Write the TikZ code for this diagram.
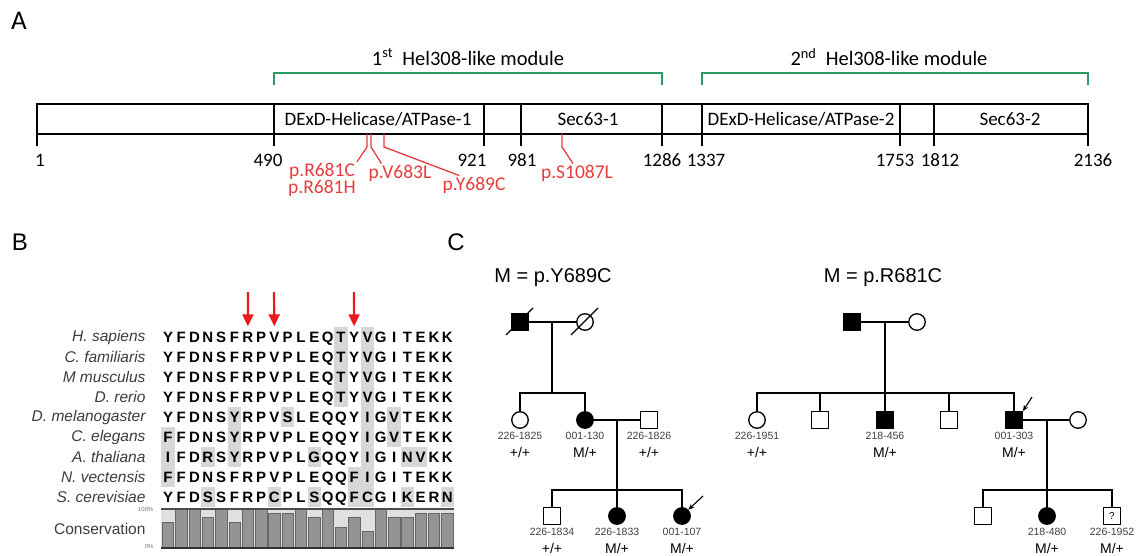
\documentclass[tikz,border=0pt]{standalone}
\usepackage{fontspec}
\setmainfont{Liberation Sans}
\newfontfamily\carl{Carlito}
\usetikzlibrary{arrows.meta, positioning, calc}
\definecolor{modgreen}{RGB}{40,155,100}
\definecolor{mutred}{RGB}{232,60,60}
\definecolor{hitred}{RGB}{235,25,30}
\definecolor{spgray}{RGB}{60,60,60}
\definecolor{cellgray}{RGB}{215,215,215}

\begin{document}
\begin{tikzpicture}[x=1pt, y=-1pt,
    panel/.style={font=\fontsize{24}{26}\selectfont},
    domtxt/.style={font=\carl\fontsize{19}{21}\selectfont},
    modtxt/.style={font=\carl\fontsize{20.5}{22}\selectfont},
    ticklab/.style={font=\carl\fontsize{19}{21}\selectfont},
    mutlab/.style={font=\carl\fontsize{19.5}{16}\selectfont, text=mutred, align=center, inner sep=1pt},
    mutline/.style={draw=mutred, line width=1.3pt},
    bracket/.style={draw=modgreen, line width=2pt},
    species/.style={anchor=east, font=\itshape\fontsize{15.5}{17}\selectfont, text=spgray},
    aa/.style={font=\bfseries\fontsize{15}{17}\selectfont, text height=11pt, text depth=0pt, inner sep=0pt},
    cell/.style={fill=cellgray},
    hit/.style={draw=hitred, line width=2.2pt, -{Triangle[width=11pt,length=12pt]}, shorten >=5pt},
    male/.style={draw, rectangle, minimum size=16.5pt, inner sep=0pt, line width=1.3pt, fill=white},
    female/.style={draw, circle, minimum size=16.5pt, inner sep=0pt, line width=1.3pt, fill=white},
    aff/.style={fill=black},
    ped/.style={line width=1.3pt},
    pid/.style={font=\fontsize{10.5}{11}\selectfont, text=black!75},
    pgt/.style={font=\fontsize{14}{15}\selectfont},
    proband/.style={line width=1.1pt, -{Stealth[length=6pt,width=5pt]}},
    mtitle/.style={font=\fontsize{20}{22}\selectfont}
  ]
    \useasboundingbox (0,0) rectangle (1139,556);

    % A: domain map
    \node[panel, font=\carl\fontsize{27}{29}\selectfont] (lA) at (19,21) {A};
    \draw[line width=1.3pt] (37,104) rectangle (1088,134);
    \foreach \x in {274,484,521,662,702,900,934}
      \draw[line width=1.3pt] (\x,104) -- (\x,134);
    \foreach \x/\lx/\n in {37/40/1, 274/268/490, 484/472/921, 521/522/981, 662/662/1286,
                           702/706/1337, 900/895/1753, 934/940/1812, 1088/1093/2136} {
      \draw[line width=1.3pt] (\x,134) -- (\x,146);
      \node[ticklab] (t\n) at (\lx,160) {\n};
    }
    \node[domtxt] (dh1) at (378,119) {DExD-Helicase/ATPase-1};
    \node[domtxt] (sc1) at (588,119) {Sec63-1};
    \node[domtxt] (dh2) at (801,119) {DExD-Helicase/ATPase-2};
    \node[domtxt] (sc2) at (1010,119) {Sec63-2};

    \draw[bracket] (274,85) -- (274,73) -- (662,73) -- (662,85);
    \draw[bracket] (702,85) -- (702,73) -- (1088,73) -- (1088,85);
    \node[modtxt] (mod1) at (468,57) {1\textsuperscript{st}\ \ Hel308-like module};
    \node[modtxt] (mod2) at (889,57) {2\textsuperscript{nd}\ \ Hel308-like module};

    \coordinate (m681) at (367,134);
    \coordinate (m683) at (371,134);
    \coordinate (m689) at (384,134);
    \coordinate (m1087) at (562,134);
    \node[mutlab] (r681) at (322,180) {p.R681C\\p.R681H};
    \node[mutlab] (v683) at (400,173) {p.V683L};
    \node[mutlab] (y689) at (474,185) {p.Y689C};
    \node[mutlab] (s1087) at (577,173) {p.S1087L};
    \draw[mutline] (m681) -- ++(0,13) -- (r681.north east);
    \draw[mutline] (m683) -- ++(0,13) -- ([xshift=14pt]v683.north west);
    \draw[mutline] (m689) -- ++(0,13) -- ([xshift=18pt]y689.north west);
    \draw[mutline] (m1087) -- ++(0,13) -- ([xshift=-4pt]s1087.north);

    % B: alignment
    \node[panel] (lB) at (20,242) {B};
    \foreach \r/\sp/\seq/\hl in {
        0/{H. sapiens}/{Y,F,D,N,S,F,R,P,V,P,L,E,Q,T,Y,V,G,I,T,E,K,K}/{13,15},
        1/{C. familiaris}/{Y,F,D,N,S,F,R,P,V,P,L,E,Q,T,Y,V,G,I,T,E,K,K}/{13,15},
        2/{M musculus}/{Y,F,D,N,S,F,R,P,V,P,L,E,Q,T,Y,V,G,I,T,E,K,K}/{13,15},
        3/{D. rerio}/{Y,F,D,N,S,F,R,P,V,P,L,E,Q,T,Y,V,G,I,T,E,K,K}/{13,15},
        4/{D. melanogaster}/{Y,F,D,N,S,Y,R,P,V,S,L,E,Q,Q,Y,I,G,V,T,E,K,K}/{5,9,15,17},
        5/{C. elegans}/{F,F,D,N,S,Y,R,P,V,P,L,E,Q,Q,Y,I,G,V,T,E,K,K}/{0,5,15,17},
        6/{A. thaliana}/{I,F,D,R,S,Y,R,P,V,P,L,G,Q,Q,Y,I,G,I,N,V,K,K}/{0,3,5,11,15,18,19},
        7/{N. vectensis}/{F,F,D,N,S,F,R,P,V,P,L,E,Q,Q,F,I,G,I,T,E,K,K}/{0,14,15},
        8/{S. cerevisiae}/{Y,F,D,S,S,F,R,P,C,P,L,S,Q,Q,F,C,G,I,K,E,R,N}/{3,8,11,14,15,18,21}} {
      \foreach \k in \hl
        \fill[cell] ({161.35+13.3*\k},{327+20*\r}) rectangle ++(13.3,20);
      \node[species] (sp\r) at (149,{337+20*\r}) {\sp};
      \foreach \c [count=\i from 0] in \seq
        \node[aa] (s\r-\i) at ({168+13.3*\i},{337+20*\r}) {\c};
    }
    \coordinate (u1) at (248,292);
    \coordinate (u2) at (274,292);
    \coordinate (u3) at (354,292);
    \draw[hit] (u1) -- (s0-6.north);
    \draw[hit] (u2) -- (s0-8.north);
    \draw[hit] (u3) -- (s0-14.north);

    \fill[black!12] (161.35,509) rectangle (454,548);
    \foreach \h [count=\i from 0] in {0.65,1,1,0.79,1,0.65,1,1,0.89,0.89,1,0.79,
                                      1,0.54,0.79,0.42,1,0.79,0.79,0.89,0.89,0.89}
      \filldraw[fill=black!42, draw=black!60, line width=0.6pt]
        ({162.3+13.3*\i},548) rectangle ++(11.4,{-39*\h});
    \draw[line width=1.5pt, black!70] (161.35,509) -- (454,509);
    \draw[line width=1.8pt, black!80] (161.35,548) -- (454,548);
    \node[anchor=east, font=\fontsize{6}{7}\selectfont, text=black!55] (p100) at (157,509) {100\%};
    \node[anchor=east, font=\fontsize{6}{7}\selectfont, text=black!55] (p0) at (157,546) {0\%};
    \node[anchor=east, font=\fontsize{15.5}{17}\selectfont, text=spgray] (cons) at (149,529) {Conservation};

    % C: pedigrees
    \node[panel] (lC) at (456,242) {C};
    \node[mtitle] (ty) at (553,278) {M = p.Y689C};
    \node[mtitle] (tr) at (883,278) {M = p.R681C};

    \node[male, aff] (yI1) at (520,322) {};
    \node[female] (yI2) at (585,322) {};
    \draw[ped] (yI1) -- (yI2);
    \draw[ped] ([shift={(-14,13)}]yI1.center) -- ([shift={(13,-14)}]yI1.center);
    \draw[ped] ([shift={(-14,13)}]yI2.center) -- ([shift={(13,-14)}]yI2.center);
    \coordinate (ymu) at (552,322);
    \coordinate (ysb) at (552,393);
    \draw[ped] (ymu) -- (ysb);
    \node[female] (yII1) at (520,420) {};
    \node[female, aff] (yII2) at (585,420) {};
    \node[male] (yII3) at (649,420) {};
    \draw[ped] (yII1.north) |- (ysb) -| (yII2.north);
    \draw[ped] (yII2) -- (yII3);
    \coordinate (ymu2) at (617,420);
    \coordinate (ysb2) at (617,490);
    \node[male] (yIII1) at (552,516) {};
    \node[female, aff] (yIII2) at (617,516) {};
    \node[female, aff] (yIII3) at (682,516) {};
    \draw[ped] (yIII1.north) |- (ysb2) -| (yIII3.north);
    \draw[ped] (ymu2) -- (yIII2.north);
    \coordinate (yarr) at (703,496);
    \draw[proband] (yarr) -- (yIII3.north east);

    \node[male, aff] (rI1) at (852,322) {};
    \node[female] (rI2) at (917,322) {};
    \draw[ped] (rI1) -- (rI2);
    \coordinate (rmu) at (885,322);
    \coordinate (rsb) at (885,393);
    \node[female] (rII1) at (757,420) {};
    \node[male] (rII2) at (820,420) {};
    \node[male, aff] (rII3) at (885,420) {};
    \node[male] (rII4) at (949,420) {};
    \node[male, aff] (rII5) at (1014,420) {};
    \node[female] (rII6) at (1078,420) {};
    \draw[ped] (rII1.north) |- (rsb) -| (rII5.north);
    \draw[ped] (rmu) -- (rII3.north);
    \foreach \n in {rII2, rII4}
      \draw[ped] (\n.north) -- (\n.north |- rsb);
    \draw[ped] (rII5) -- (rII6);
    \coordinate (rmu2) at (1047,420);
    \coordinate (rsb2) at (1047,490);
    \node[male] (rIII1) at (983,516) {};
    \node[female, aff] (rIII2) at (1047,516) {};
    \node[male, font=\fontsize{10}{10}\selectfont] (rIII3) at (1112,516) {?};
    \draw[ped] (rIII1.north) |- (rsb2) -| (rIII3.north);
    \draw[ped] (rmu2) -- (rIII2.north);
    \coordinate (rarr) at (1032,397);
    \draw[proband] (rarr) -- (rII5.north east);

    \foreach \n/\id/\gt in {yII1/226-1825/{+/+}, yII2/001-130/{M/+}, yII3/226-1826/{+/+},
                            yIII1/226-1834/{+/+}, yIII2/226-1833/{M/+}, yIII3/001-107/{M/+},
                            rII1/226-1951/{+/+}, rII3/218-456/{M/+}, rII5/001-303/{M/+},
                            rIII2/218-480/{M/+}, rIII3/226-1952/{M/+}} {
      \node[pid] (\n-id) at ($(\n)+(0,16)$) {\id};
      \node[pgt] (\n-gt) at ($(\n)+(0,32)$) {\gt};
    }
  \end{tikzpicture}
\end{document}
